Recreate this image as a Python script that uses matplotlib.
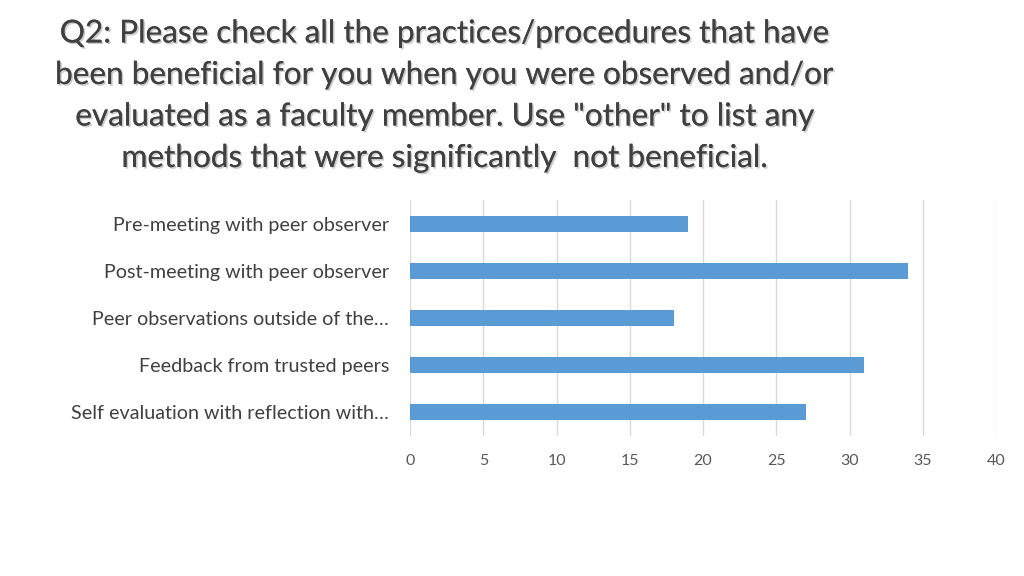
import matplotlib
matplotlib.use('Agg')
import matplotlib.pyplot as plt
import matplotlib.patheffects as pe

# Survey responses (counts), top-to-bottom as shown
categories = [
    "Pre-meeting with peer observer",
    "Post-meeting with peer observer",
    "Peer observations outside of the\u2026",
    "Feedback from trusted peers",
    "Self evaluation with reflection with\u2026",
]
counts = [19, 34, 18, 31, 27]
x_ticks = [0, 5, 10, 15, 20, 25, 30, 35, 40]

title = ('Q2: Please check all the practices/procedures that have\n'
         'been beneficial for you when you were observed and/or\n'
         'evaluated as a faculty member. Use "other" to list any\n'
         'methods that were significantly  not beneficial.')

plt.rcParams['font.family'] = ['Lato', 'DejaVu Sans']

fig = plt.figure(figsize=(10.24, 5.76), dpi=100)
fig.patch.set_facecolor('white')
ax = fig.add_axes([0.4004, 0.2431, 0.5723, 0.4097])

ypos = list(range(len(categories)))
ax.barh(ypos, counts, height=0.34, color='#5B9BD5', zorder=3)
ax.set_ylim(len(categories) - 0.5, -0.5)
ax.set_xlim(0, 40)
ax.set_xticks(x_ticks)
ax.set_yticks(ypos)
ax.set_yticklabels(categories, fontsize=14.2, color='#404040')
ax.tick_params(axis='x', labelsize=11.5, colors='#595959', length=0, pad=13)
ax.tick_params(axis='y', length=0, pad=15)
ax.grid(axis='x', color='#D9D9D9', linewidth=1, zorder=0)
for s in ax.spines.values():
    s.set_visible(False)

fig.text(0.4346, 0.968, title, ha='center', va='top', fontsize=22.7,
         color='#404040', linespacing=1.48,
         path_effects=[pe.withSimplePatchShadow(offset=(1.2, -1.2), alpha=0.2, shadow_rgbFace='#000000'),
                       pe.Normal()])

fig.savefig('out.png', dpi=100, facecolor='white')
